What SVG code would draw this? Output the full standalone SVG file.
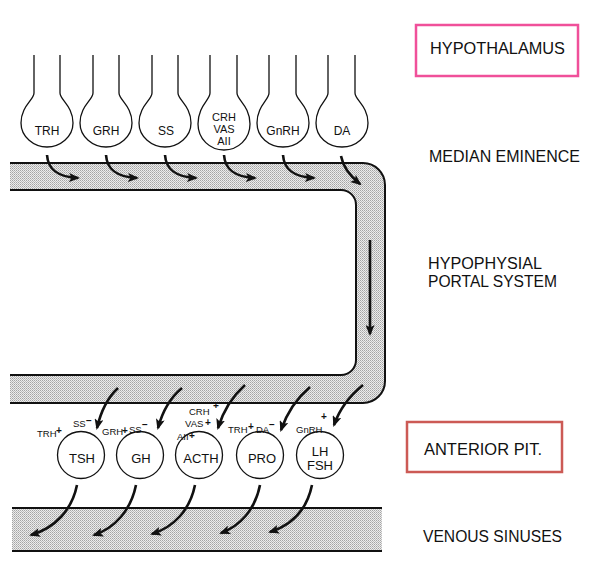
<svg xmlns="http://www.w3.org/2000/svg" width="595" height="563" viewBox="0 0 595 563">
<defs>
<pattern id="stip" width="2" height="2" patternUnits="userSpaceOnUse">
<rect width="2" height="2" fill="#ececec"/>
<rect x="0" y="0" width="1" height="1" fill="#a4a4a4"/>
<rect x="1" y="1" width="1" height="1" fill="#bcbcbc"/>
</pattern>
<marker id="ah" markerWidth="11" markerHeight="9" refX="9" refY="4.5" orient="auto" markerUnits="userSpaceOnUse">
<path d="M0,0 L11,4.5 L0,9 L2.5,4.5 z" fill="#111"/>
</marker>
</defs>
<style>
.ln{fill:none;stroke:#111;stroke-width:2}
.neu{fill:#fff;stroke:#111;stroke-width:1.3}
.cell{fill:#fff;stroke:#111;stroke-width:1.3}
.arr{fill:none;stroke:#111;stroke-width:2.6;marker-end:url(#ah)}
.t{font-family:"Liberation Sans",Arial,sans-serif;fill:#111}
.n{font-size:12px;text-anchor:middle}
.n3{font-size:11px;text-anchor:middle}
.c{font-size:13px;text-anchor:middle}
.a{font-size:9.5px}
.p{font-size:10px;font-weight:bold}
.r{font-size:16px}
</style>
<g id="portal">
<path d="M10,163 H363 A22,22 0 0 1 385,185 V381 A22,22 0 0 1 363,403 H10 V375 H341 A15,15 0 0 0 356,360 V205 A15,15 0 0 0 341,190 H10 Z" fill="url(#stip)"/>
<path class="ln" d="M10,163 H363 A22,22 0 0 1 385,185 V381 A22,22 0 0 1 363,403 H10"/>
<path class="ln" d="M10,190 H341 A15,15 0 0 1 356,205 V360 A15,15 0 0 1 341,375 H10"/>
</g>
<g id="venous">
<rect x="12" y="508" width="370" height="43" fill="url(#stip)"/>
<path class="ln" d="M12,508 H382 M12,551 H382"/>
</g>
<g id="neuron-trh"><path class="neu" d="M34,55 V93 C34,100 21,106 21,123 C21,137 34,147 47,147 C60,147 73,137 73,123 C73,106 60,100 60,93 V55"/><text class="t n" x="47" y="135">TRH</text></g>
<g id="neuron-grh"><path class="neu" d="M93,55 V93 C93,100 80,106 80,123 C80,137 93,147 106,147 C119,147 132,137 132,123 C132,106 119,100 119,93 V55"/><text class="t n" x="106" y="135">GRH</text></g>
<g id="neuron-ss"><path class="neu" d="M152,55 V93 C152,100 139,106 139,123 C139,137 152,147 165,147 C178,147 191,137 191,123 C191,106 178,100 178,93 V55"/><text class="t n" x="166" y="135">SS</text></g>
<g id="neuron-crh"><path class="neu" d="M210,55 V93 C210,100 198,106 198,124 C198,139 210,150 224,150 C238,150 250,139 250,124 C250,106 237,100 237,93 V55"/><text class="t n3" x="224" y="121">CRH</text><text class="t n3" x="224" y="133">VAS</text><text class="t n3" x="224" y="145">AII</text></g>
<g id="neuron-gnrh"><path class="neu" d="M269,55 V93 C269,100 257,106 257,123 C257,137 269,147 283,147 C297,147 309,137 309,123 C309,106 296,100 296,93 V55"/><text class="t n" x="283" y="135">GnRH</text></g>
<g id="neuron-da"><path class="neu" d="M328,55 V93 C328,100 316,106 316,123 C316,137 328,147 342,147 C356,147 368,137 368,123 C368,106 355,100 355,93 V55"/><text class="t n" x="342" y="135">DA</text></g>
<g id="cell-tsh"><circle class="cell" cx="81" cy="455" r="23.5"/><text class="t c" x="82" y="463">TSH</text></g>
<g id="cell-gh"><circle class="cell" cx="140" cy="455" r="23.5"/><text class="t c" x="141" y="463">GH</text></g>
<g id="cell-acth"><circle class="cell" cx="199" cy="455" r="23.5"/><text class="t c" x="201" y="463">ACTH</text></g>
<g id="cell-pro"><circle class="cell" cx="260" cy="455" r="23.5"/><text class="t c" x="262" y="463">PRO</text></g>
<g id="cell-lhfsh"><circle class="cell" cx="320" cy="455" r="23.5"/><text class="t c" x="320" y="456">LH</text><text class="t c" x="320" y="470">FSH</text></g>
<g id="connectors">
<path class="arr" d="M47,155 C48,170 58,177 78,178"/>
<path class="arr" d="M106,155 C107,170 117,177 137,178"/>
<path class="arr" d="M165,155 C166,170 176,177 196,178"/>
<path class="arr" d="M224,155 C225,170 235,177 255,178"/>
<path class="arr" d="M283,155 C284,170 294,177 314,178"/>
<path class="arr" d="M341,156 C343,167 350,176 360,184"/>
<path class="arr" d="M370,240 V334"/>
<path class="arr" d="M118,388 Q103,402 97,428"/>
<path class="arr" d="M182,388 Q165,402 158,428"/>
<path class="arr" d="M245,385 Q226,402 218,428"/>
<path class="arr" d="M310,387 Q290,404 281,430"/>
<path class="arr" d="M363,385 Q342,402 334,425"/>
<path class="arr" d="M77,485 C72,510 55,528 31,535"/>
<path class="arr" d="M136,485 C131,510 115,528 94,535"/>
<path class="arr" d="M195,485 C190,510 174,527 152,534"/>
<path class="arr" d="M260,485 C255,510 240,526 221,533"/>
<path class="arr" d="M312,485 C307,509 292,525 270,532"/>
</g>
<g id="annotations" class="t">
<text class="a" x="37" y="437">TRH</text><text class="p" x="56" y="434">+</text>
<text class="a" x="73" y="427">SS</text><text class="p" x="86" y="424">−</text>
<text class="a" x="102" y="435">GRH</text><text class="p" x="122" y="434">+</text>
<text class="a" x="129" y="433">SS</text><text class="p" x="142" y="428">−</text>
<text class="a" x="189" y="414.5">CRH</text><text class="p" x="213" y="409">+</text>
<text class="a" x="185" y="426.5">VAS</text><text class="p" x="205" y="426">+</text>
<text class="a" x="177" y="439.5">AII</text><text class="p" x="189" y="438.5">+</text>
<text class="a" x="228" y="433">TRH</text><text class="p" x="248" y="430">+</text>
<text class="a" x="256" y="433">DA</text><text class="p" x="269" y="428">−</text>
<text class="a" x="296" y="433">GnRH</text><text class="p" x="321" y="420">+</text>
</g>
<g id="label-hypothalamus"><rect x="416" y="25" width="162" height="51" fill="none" stroke="#f0509a" stroke-width="2.5"/><text class="t r" x="430" y="54" textLength="135" lengthAdjust="spacingAndGlyphs">HYPOTHALAMUS</text></g>
<g id="label-median"><text class="t r" x="429" y="162" textLength="151" lengthAdjust="spacingAndGlyphs">MEDIAN  EMINENCE</text></g>
<g id="label-portal"><text class="t r" x="428" y="269" textLength="114" lengthAdjust="spacingAndGlyphs">HYPOPHYSIAL</text><text class="t r" x="428" y="287" textLength="129" lengthAdjust="spacingAndGlyphs">PORTAL SYSTEM</text></g>
<g id="label-anterior"><rect x="407" y="422" width="155" height="50" fill="none" stroke="#cc5a55" stroke-width="2.5"/><text class="t r" x="424" y="455" textLength="118" lengthAdjust="spacingAndGlyphs">ANTERIOR  PIT.</text></g>
<g id="label-venous"><text class="t r" x="423" y="542" textLength="139" lengthAdjust="spacingAndGlyphs">VENOUS SINUSES</text></g>
</svg>
